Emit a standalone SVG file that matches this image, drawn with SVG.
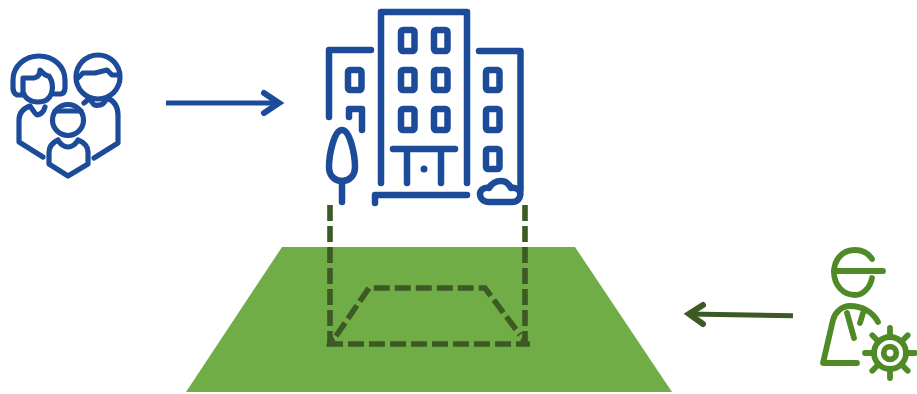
<svg xmlns="http://www.w3.org/2000/svg" width="917" height="394" viewBox="0 0 917 394">
<style>
.b{fill:none;stroke:#1c4b99;stroke-width:6.500;stroke-linecap:round;stroke-linejoin:round}
.p{fill:none;stroke:#1c4b99;stroke-width:5.200;stroke-linecap:round;stroke-linejoin:round}
.w{fill:none;stroke:#4f8a26;stroke-width:5.800;stroke-linecap:round;stroke-linejoin:round}
.d{fill:none;stroke:#3d5a24;stroke-width:5.600;stroke-dasharray:16 5}
</style>
<rect width="917" height="394" fill="#fff"/>
<g id="field"><polygon points="282,247 575,247 672,392 186,392" fill="#70ad47"/></g>
<g id="family" class="p">
<path d="M22,95H17Q13,93 13,88V80C13,66 25,56 39,56C53,56 65,66 65,80V88Q65,93 61,94H55"/>
<path d="M23,92V78H34Q40,77 40,70Q45,76 49,76C55,85 54,102 38,102C30,102 25,98 23,92"/>
<path d="M43,157L19,142V120Q19,110 30,106Q36,115 37,115Q43,114 45,107"/>
<circle cx="98" cy="77" r="22"/>
<path d="M78,78L83,73H95L107,70L112,75H119"/>
<path d="M94,158L118,143V115C118,105 112,100 107,98Q103,106 98,105Q93,107 90,98L84,103"/>
<circle cx="68" cy="120" r="15.500"/>
<path d="M55,111H81"/>
<path d="M58,140Q49,144 49,153V164L68,176L88,164V152Q88,144 78,140Q74,147 68,147Q62,147 58,140"/>
</g>
<g id="building" class="b">
<path d="M381,183V12H467V183"/>
<path d="M329,117V50H371"/>
<path d="M479,51H520.500V190"/>
<rect x="401" y="30" width="13.500" height="21" rx="2"/>
<rect x="434" y="30" width="13.500" height="21" rx="2"/>
<rect x="401" y="70" width="13.500" height="20" rx="2"/>
<rect x="434" y="70" width="13.500" height="20" rx="2"/>
<rect x="401" y="109" width="13.500" height="21" rx="2"/>
<rect x="434" y="109" width="13.500" height="21" rx="2"/>
<rect x="348" y="70" width="13.500" height="20" rx="2"/>
<path d="M349,117V109H362V130"/>
<rect x="486" y="70" width="13.500" height="20" rx="2"/>
<rect x="486" y="109" width="13.500" height="21" rx="2"/>
<rect x="486" y="149" width="13.500" height="20" rx="2"/>
<path d="M393,149H455M407,149V183M441,149V183"/>
<circle cx="424" cy="169" r="3.500" fill="#1c4b99" stroke="none"/>
<path d="M375,203V195H467"/>
<path d="M342,130C350,130 355,155 355,167C355,176 349,181 342,181C335,181 329,176 329,167C329,155 334,130 342,130Z"/>
<path d="M342,181V202"/>
<path d="M489,202C483,202 480,198 480,194C480,190 484,187 489,188C492,183 497,181 501,181C506,181 509,184 511,188C516,187 520,190 520.500,194C520,199 517,202 512,202Z"/>
</g>
<g id="worker">
<g class="w">
<path d="M872,259C868,253 862,250 855,250C842,250 834,260 834,272C834,285 843,295 855,295C863,295 870,288 872,278"/>
<path d="M834,271H883"/>
<path d="M878,322C873,312 862,306 850,306C842,306 835,312 833,320L823,363H857"/>
<path d="M847,313L854,338M860,323L863,313"/>
<circle cx="890" cy="353" r="16"/>
<circle cx="890" cy="353" r="6.300"/>
<path d="M890,337V328M890,369V378M874,353H865M906,353H915M878.700,341.700L872.300,335.300M901.300,341.700L907.700,335.300M878.700,364.300L872.300,370.700M901.300,364.300L907.700,370.700"/>
</g>
</g>
<g id="connectors">
<path d="M166,103H280" fill="none" stroke="#1c4b99" stroke-width="5"/>
<path d="M264,93L279,103L264,113" fill="none" stroke="#1c4b99" stroke-width="6" stroke-linecap="round" stroke-linejoin="miter"/>
<path d="M793,315.700L688,314" fill="none" stroke="#3d5a24" stroke-width="5"/>
<path d="M703,305L689,314L703,324" fill="none" stroke="#3d5a24" stroke-width="6" stroke-linecap="round" stroke-linejoin="miter"/>
<path class="d" d="M330,205V344"/>
<path class="d" d="M525,205V344"/>
<path class="d" d="M327,344H530"/>
<path class="d" d="M336,336L369,288H485L520,335"/>
<polygon points="326,346 331,333 338,346" fill="#3d5a24"/>
<polygon points="529,346 524,333 518,346" fill="#3d5a24"/>
</g>
</svg>
